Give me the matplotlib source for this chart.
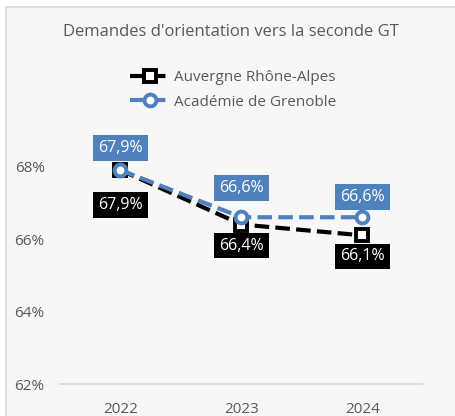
import matplotlib.pyplot as plt
from matplotlib.patches import Rectangle

# data
annees = ["2022", "2023", "2024"]
ara = [67.9, 66.4, 66.1]
grenoble = [67.9, 66.6, 66.6]
ara_lbl = ["67,9%", "66,4%", "66,1%"]
gre_lbl = ["67,9%", "66,6%", "66,6%"]
yticks = [62, 64, 66, 68]

plt.rcParams['font.family'] = ['Open Sans', 'DejaVu Sans']
gris = "#595959"
bleu = "#4f81bd"

fig = plt.figure(figsize=(4.56, 4.16), dpi=100)
fig.patch.set_facecolor("white")
W, H = 456, 416
# fond de la zone graphique avec bordure
fig.patches.append(Rectangle((6.5 / W, -0.1), 1.2, (H - 6.5) / H + 0.1,
                             transform=fig.transFigure, facecolor="#f7f7f7",
                             edgecolor="#d9d9d9", lw=1.2, zorder=-5))

ax = fig.add_axes([60 / W, (H - 384) / H, (423 - 60) / W, (384 - 120) / H])
ax.set_facecolor("none")
x = [0.5, 1.5, 2.5]

ax.plot(x, ara, color="black", lw=3, ls=(0, (3.5, 1.5)), marker="s", ms=8.5,
        mfc="white", mec="black", mew=2.8, label="Auvergne Rhône-Alpes", zorder=3)
ax.plot(x, grenoble, color=bleu, lw=3, ls=(0, (3.5, 1.5)), marker="o", ms=8.5,
        mfc="white", mec=bleu, mew=2.8, label="Académie de Grenoble", zorder=4)

off_b = [22, 29, 20]
off_n = [-35, -21, -21]
for i in range(3):
    ax.annotate(gre_lbl[i], (x[i], grenoble[i]), xytext=(0, off_b[i]),
                textcoords="offset pixels", ha="center", va="center",
                color="white", fontsize=11.5,
                bbox=dict(boxstyle="square,pad=0.3", fc=bleu, ec="none"), zorder=5)
    ax.annotate(ara_lbl[i], (x[i], ara[i]), xytext=(0, off_n[i]),
                textcoords="offset pixels", ha="center", va="center",
                color="white", fontsize=11.5,
                bbox=dict(boxstyle="square,pad=0.3", fc="black", ec="none"), zorder=5)

ax.set_xlim(0, 3)
ax.set_ylim(62, 62 + (384 - 120) / 36.25)
ax.set_xticks(x)
ax.set_xticklabels(annees)
ax.set_yticks(yticks)
ax.set_yticklabels([f"{v}%" for v in yticks])
ax.tick_params(length=0, colors=gris, labelsize=11)
ax.tick_params(axis="y", pad=11)
ax.tick_params(axis="x", pad=13)
for s in ["top", "right", "left"]:
    ax.spines[s].set_visible(False)
ax.spines["bottom"].set_color("#d9d9d9")
ax.spines["bottom"].set_linewidth(1.2)

fig.text(231 / W, 1 - 32 / H, "Demandes d'orientation vers la seconde GT",
         ha="center", va="center", color=gris, fontsize=12)
fig.legend(loc="center", bbox_to_anchor=(233 / W, 1 - 90 / H), frameon=False,
           fontsize=11, labelcolor=gris, handlelength=2.6, handletextpad=0.3,
           labelspacing=0.6)

fig.savefig("out.png", dpi=100)
